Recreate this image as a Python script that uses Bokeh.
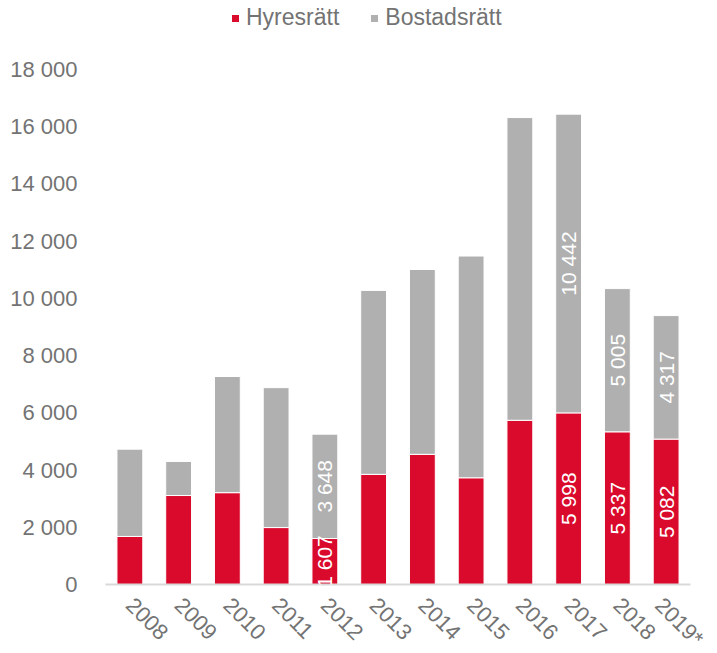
import math
from bokeh.plotting import figure
from bokeh.core.properties import value
from bokeh.models import (ColumnDataSource, FactorRange, Range1d, FixedTicker,
                          CustomJSTickFormatter, Legend, LegendItem, LabelSet)
from bokeh.embed import file_html
from bokeh.resources import INLINE

years = ["2008", "2009", "2010", "2011", "2012", "2013", "2014", "2015",
         "2016", "2017", "2018", "2019*"]
hyresratt = [1680, 3110, 3210, 1990, 1607, 3850, 4550, 3730, 5740, 5998, 5337, 5082]
bostadsratt = [3050, 1190, 4060, 4890, 3648, 6430, 6460, 7750, 10580, 10442, 5005, 4317]
show_label = [False, False, False, False, True, False, False, False, False, True, True, True]
y_ticks = [0, 2000, 4000, 6000, 8000, 10000, 12000, 14000, 16000, 18000]

RED = "#DA0A2C"
GRAY = "#B0B0B0"
TXT = "#737373"
FONT = "Liberation Sans"

# layout: axis max (18000) sits 69px below frame top, leaving room for the legend
FRAME_H = 584
AXIS_H = 515
y_end = y_ticks[-1] * FRAME_H / AXIS_H

def fmt(v):
    return f"{v:,}".replace(",", " ")

src = ColumnDataSource(dict(
    year=years, Hyresrätt=hyresratt, Bostadsrätt=bostadsratt,
    h_mid=[h / 2 for h in hyresratt],
    b_mid=[h + b / 2 for h, b in zip(hyresratt, bostadsratt)],
    h_lab=[fmt(h) if s else "" for h, s in zip(hyresratt, show_label)],
    b_lab=[fmt(b) if s else "" for b, s in zip(bostadsratt, show_label)],
))

p = figure(frame_width=585, frame_height=FRAME_H, x_range=FactorRange(*years),
           y_range=Range1d(0, y_end),
           output_backend="svg", toolbar_location=None,
           min_border_left=105, min_border_right=18, min_border_top=0, min_border_bottom=58)

r = p.vbar_stack(["Hyresrätt", "Bostadsrätt"], x="year", width=0.53, source=src,
                 color=[RED, GRAY], line_color="white", line_width=1)

for col_y, col_t in (("h_mid", "h_lab"), ("b_mid", "b_lab")):
    p.add_layout(LabelSet(x="year", y=col_y, text=col_t, source=src, angle=math.pi / 2,
                          text_align="center", text_baseline="middle",
                          text_color="white", text_font=value(FONT), text_font_size="21px"))

p.outline_line_color = None
p.xgrid.grid_line_color = None
p.ygrid.grid_line_color = None
p.background_fill_color = "white"

p.yaxis.ticker = FixedTicker(ticks=y_ticks)
p.yaxis.formatter = CustomJSTickFormatter(
    code="return tick.toFixed(0).replace(/\\B(?=(\\d{3})+(?!\\d))/g, ' ');")
p.yaxis.axis_line_color = None
p.yaxis.major_tick_line_color = None
p.yaxis.minor_tick_line_color = None
p.yaxis.major_label_standoff = 22
p.yaxis.major_label_text_font = FONT
p.yaxis.major_label_text_font_size = "22px"
p.yaxis.major_label_text_color = TXT

p.xaxis.axis_line_color = "#D9D9D9"
p.xaxis.axis_line_width = 2
p.xaxis.major_tick_line_color = None
p.xaxis.minor_tick_line_color = None
p.xaxis.major_label_orientation = -math.pi / 4
p.xaxis.major_label_standoff = 11
p.xaxis.major_label_text_font = FONT
p.xaxis.major_label_text_font_size = "22px"
p.xaxis.major_label_text_color = TXT

legend = Legend(items=[LegendItem(label="Hyresrätt", renderers=[r[0]]),
                       LegendItem(label="Bostadsrätt", renderers=[r[1]])],
                orientation="horizontal", location=(125, FRAME_H - 31),
                label_text_font=FONT, label_text_font_size="23px", label_text_color=TXT,
                glyph_width=10, glyph_height=10, spacing=30, label_standoff=6,
                label_height=26, padding=0, margin=0, border_line_color=None,
                background_fill_alpha=0)
p.add_layout(legend, "center")

open("out.html", "w").write(file_html(p, INLINE))
